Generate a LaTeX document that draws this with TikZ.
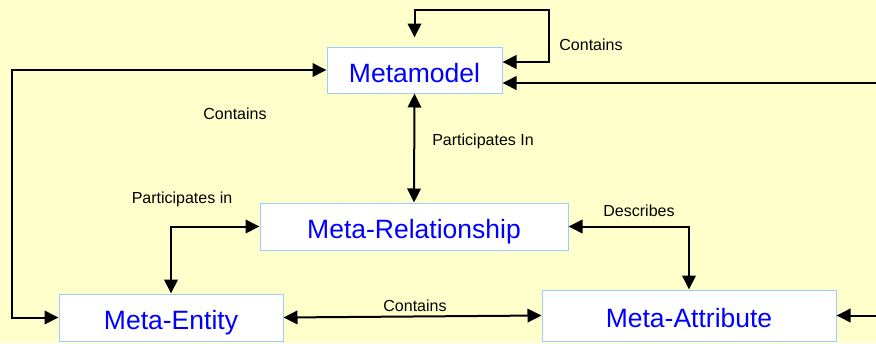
\documentclass[tikz,border=0pt]{standalone}
\usepackage{fontspec}
\setmainfont{Liberation Sans}
\usetikzlibrary{arrows.meta}
\usetikzlibrary{calc}
\definecolor{bgyellow}{HTML}{FFFFCC}
\definecolor{boxblue}{HTML}{99CCFF}
\tikzset{
    metabox/.style={draw=boxblue,line width=1pt,fill=white,text=blue,inner sep=0pt,
        text height=24pt,text depth=0pt,font=\fontsize{26.5}{30}\selectfont},
    link/.style={line width=2pt,{Triangle[length=14pt,width=13.5pt]}-{Triangle[length=14pt,width=13.5pt]}},
    lbl/.style={font=\fontsize{16}{18}\selectfont}
}
\begin{document}
\begin{tikzpicture}[x=1pt,y=-1pt]
    \fill[bgyellow] (0,0) rectangle (876,343);
    \useasboundingbox (0,0) rectangle (876,343);
    \clip (0,0) rectangle (876,343);
    \node[metabox,minimum width=175,minimum height=46] (meta) at (414.5,70) {Metamodel};
    \node[metabox,minimum width=308,minimum height=47] (rel) at (414,226.5) {Meta-Relationship};
    \node[metabox,minimum width=224,minimum height=47] (ent) at (171,317.5) {Meta-Entity};
    \node[metabox,minimum width=294,minimum height=51] (attr) at (689,315.5) {Meta-Attribute};
    \coordinate (loop) at (549,10);
    \draw[link] ($(meta.north)+(0,-9)$) |- (loop) |- ($(meta.east)+(0,-8)$);
    \draw[link] (meta.west) -- ++(-315,0) |- (ent.west);
    \draw[link] (attr.east) -- ++(50,0) |- ($(meta.east)+(0,13)$);
    \draw[link] (meta.south) -- (rel.north);
    \draw[link] (rel.west) -| (ent.north);
    \draw[link] (rel.east) -| (attr.north);
    \draw[link] (ent.east) -- (attr.west);
    \node[lbl] (lcont1) at (591,45) {Contains};
    \node[lbl] (lcont2) at (235,114) {Contains};
    \node[lbl] (lpart1) at (483,141) {Participates In};
    \node[lbl] (lpart2) at (182,199) {Participates in};
    \node[lbl] (ldesc) at (639,211) {Describes};
    \node[lbl] (lcont3) at (415,306) {Contains};
\end{tikzpicture}
\end{document}
